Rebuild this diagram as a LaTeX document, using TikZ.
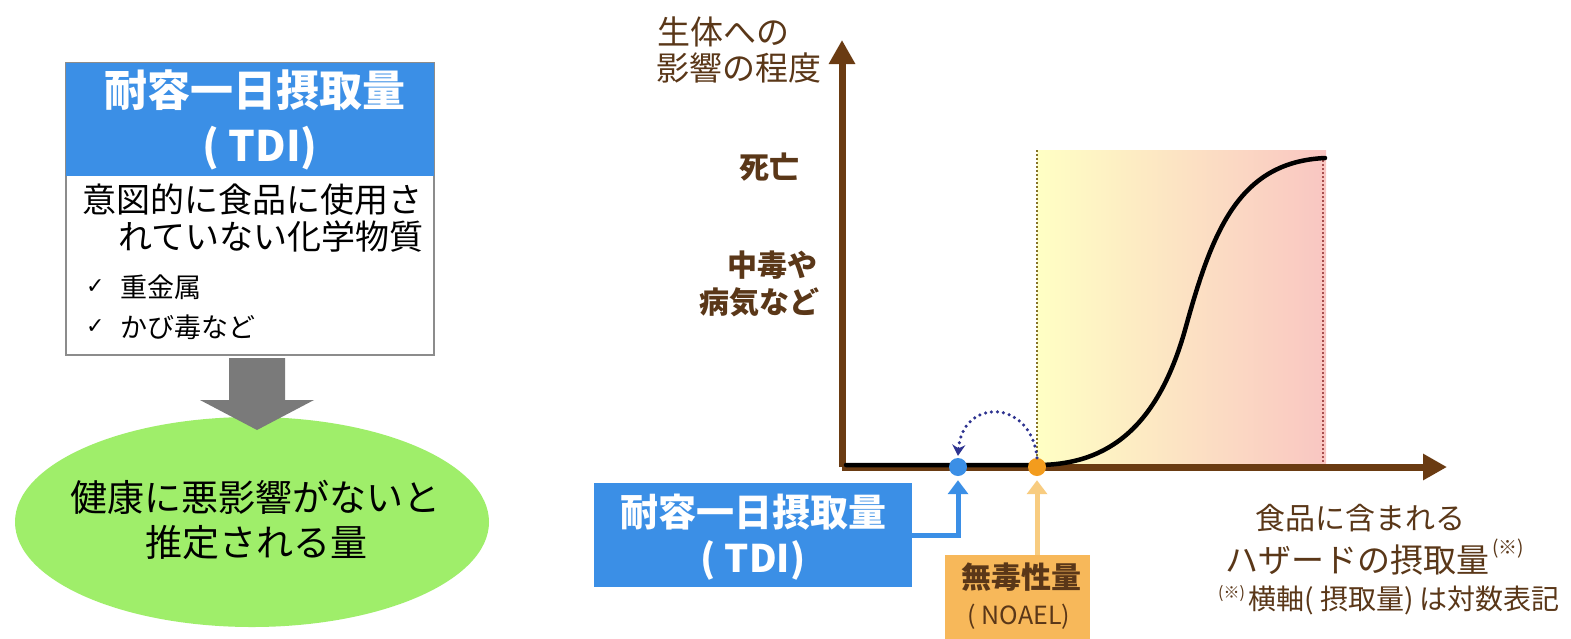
\documentclass[tikz,border=0pt]{standalone}
\usepackage{fontspec}
\setmainfont{Noto Sans CJK JP}
\newfontfamily\symf{DejaVu Sans}
\usetikzlibrary{arrows.meta,shapes.geometric,calc}
\definecolor{tdiblue}{HTML}{3B8FE6}
\definecolor{grn}{HTML}{9FEE6A}
\definecolor{axbrown}{HTML}{6A3B12}
\definecolor{txtbrown}{HTML}{5A3718}
\definecolor{orgbox}{HTML}{F7B85A}
\definecolor{orgdot}{HTML}{F39C1E}
\definecolor{orgline}{HTML}{F8CC80}
\definecolor{navyc}{HTML}{2E3390}
\definecolor{boxgray}{HTML}{8C8C8C}
\definecolor{arrowgray}{HTML}{7A7A7A}
\definecolor{shyel}{HTML}{FFFFC4}
\definecolor{shmid}{HTML}{FCE0C2}
\definecolor{shpink}{HTML}{F9C6C2}
\definecolor{dotolive}{HTML}{857326}
\definecolor{dotred}{HTML}{A85050}
\begin{document}
\begin{tikzpicture}[x=1pt,y=-1pt,
  fs/.style={inner sep=0pt, font=\fontsize{#1pt}{#1pt}\selectfont},
  fsb/.style={inner sep=0pt, font=\fontsize{#1pt}{#1pt}\selectfont\bfseries},
  axis/.style={axbrown, line width=7pt, -{Triangle[length=24pt,width=25pt]}},
  conn/.style={line width=5pt, -{Triangle[length=14pt,width=20pt]}},
  dotc/.style={circle, minimum size=18pt, inner sep=0pt},
]
\useasboundingbox[fill=white] (0,0) rectangle (1571,638);

% ---------- left part ----------
\node[draw=boxgray, line width=1.5pt, fill=white, minimum width=368pt, minimum height=292pt, inner sep=0pt] (body) at (250,209) {};
\node[fill=tdiblue, minimum width=368pt, minimum height=113pt, inner sep=0pt] (hdr) at (250,119.5) {};
\node[fsb=43, white] (hdr1) at (255,90) {耐容一日摂取量};
\node[fsb=42, white] (hdr2) at (260,148) {( TDI)};
\node[fs=34, anchor=west] (b1) at (82,200) {意図的に食品に使用さ};
\node[fs=34, anchor=west] (b2) at (118,237) {れていない化学物質};
\node[fs=22, anchor=west] (c1) at (86,287) {\symf ✓};
\node[fs=27, anchor=west] (b3) at (120,287) {重金属};
\node[fs=22, anchor=west] (c2) at (86,327) {\symf ✓};
\node[fs=27, anchor=west] (b4) at (120,327) {かび毒など};

\node[ellipse, fill=grn, minimum width=474pt, minimum height=210pt, inner sep=0pt] (res) at (252,522) {};
\node[fs=37] (r1) at (255,497) {健康に悪影響がないと};
\node[fs=37] (r2) at (256,542) {推定される量};

\fill[arrowgray] (229,358) -- (285,358) -- (285,400) -- (314,400) -- (257,430) -- (200,400) -- (229,400) -- cycle;

% ---------- chart ----------
\coordinate (O) at (842,467);
\coordinate (Y) at (842,40);
\coordinate (X) at (1447,467);
\shade[left color=shyel, middle color=shmid, right color=shpink] (1037,150) rectangle (1326,467);
\draw[dotolive, line width=2pt, dash pattern=on 2pt off 2pt] (1037,150) -- (1037,467);
\draw[dotred, line width=2pt, dash pattern=on 2pt off 2pt] (1323,160) -- (1323,467);

\draw[axis] (O) -- (Y);
\draw[axis] (O) -- (X);

\draw[black, line width=4.5pt, line cap=round] (846,465) -- (1037,465)
  .. controls (1110,465) and (1158,425) .. (1185,330)
  .. controls (1212,232) and (1238,162) .. (1325,158);

\node[dotc, fill=tdiblue] (tdot) at (958,467) {};
\node[dotc, fill=orgdot] (ndot) at (1037,467) {};

\draw[navyc, line width=3.5pt, dash pattern=on 0pt off 6pt, line cap=round,
  -{Stealth[length=11pt,width=13pt]}]
  (ndot.north) .. controls (1031,398) and (962,398) .. ($(tdot.north)+(0,-2)$);

\node[fill=tdiblue, minimum width=318pt, minimum height=104pt, inner sep=0pt] (tdibox) at (753,535) {};
\node[fsb=38, white] (t1) at (753,512) {耐容一日摂取量};
\node[fsb=38, white] (t2) at (753,560) {( TDI)};
\draw[conn, tdiblue] (tdibox.east) -| ($(tdot.south)+(0,4)$);

\node[fill=orgbox, minimum width=145pt, minimum height=90pt, inner sep=0pt] (nbox) at (1017.5,600) {};
\node[fsb=30, txtbrown] (n1) at (1021,577) {無毒性量};
\node[fs=25, txtbrown] (n2) at (1019,617) {( NOAEL)};
\draw[conn, orgline] (nbox.north -| ndot) -- ($(ndot.south)+(0,4)$);

% labels
\node[fs=33, txtbrown, anchor=west] (yl1) at (657,32) {生体への};
\node[fs=33, txtbrown, anchor=west] (yl2) at (656,68) {影響の程度};
\node[fsb=30, txtbrown, anchor=east] (l1) at (800,167) {死亡};
\node[fsb=30, txtbrown, anchor=east] (l2) at (818,265) {中毒や};
\node[fsb=30, txtbrown, anchor=east] (l3) at (820,302) {病気など};

\node[fs=30, txtbrown] (xl1) at (1360,518) {食品に含まれる};
\node[fs=33, txtbrown, anchor=east] (xl2) at (1490,560) {ハザードの摂取量};
\node[fs=19, txtbrown, anchor=west] (xl3) at (1492,549) {(※)};
\node[fs=28, txtbrown, anchor=east] (fn) at (1560,600) {横軸( 摂取量) は対数表記};
\node[fs=16, txtbrown, anchor=east] (fn0) at (fn.west) [xshift=-3pt, yshift=6pt] {(※)};
\end{tikzpicture}
\end{document}
